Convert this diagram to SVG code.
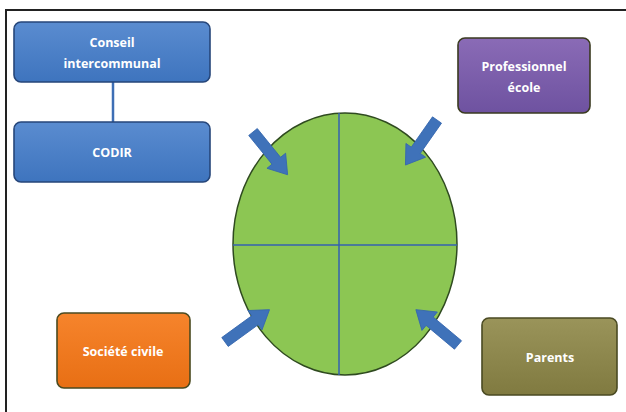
<svg xmlns="http://www.w3.org/2000/svg" xmlns:xlink="http://www.w3.org/1999/xlink" width="626" height="412" viewBox="0 0 626 412">
<style>
.lbl{font-family:"Open Sans","Liberation Sans",sans-serif;font-weight:bold;font-size:12.5px;fill:#ffffff;text-anchor:middle}
.box{stroke-width:1.6}
.arr{fill:#3F72B9;stroke:#3466AE;stroke-width:0.8}
</style>
<defs>
<linearGradient id="gBlue" x1="0" y1="0" x2="0" y2="1"><stop offset="0" stop-color="#5A8CD0"/><stop offset="1" stop-color="#3E74BE"/></linearGradient>
<linearGradient id="gPurple" x1="0" y1="0" x2="0" y2="1"><stop offset="0" stop-color="#8A6BB6"/><stop offset="1" stop-color="#6E52A0"/></linearGradient>
<linearGradient id="gOrange" x1="0" y1="0" x2="0" y2="1"><stop offset="0" stop-color="#F6842C"/><stop offset="1" stop-color="#E86F14"/></linearGradient>
<linearGradient id="gOlive" x1="0" y1="0" x2="0" y2="1"><stop offset="0" stop-color="#9A945A"/><stop offset="1" stop-color="#807A40"/></linearGradient>
<path id="arr" d="M0,-5.5 L37,-5.5 L37,-12 L55,0 L37,12 L37,5.5 L0,5.5Z"/>
</defs>
<rect width="626" height="412" fill="#ffffff"/>
<path d="M6,412 L6,10 L626,10" fill="none" stroke="#222222" stroke-width="2"/>

<g id="ellipse">
<ellipse cx="345" cy="244" rx="112" ry="131" fill="#8CC653" stroke="#2F4A20" stroke-width="1.5"/>
<line x1="339" y1="113" x2="339" y2="375" stroke="#3560B0" stroke-width="1.5"/>
<line x1="233" y1="245" x2="457" y2="245" stroke="#3560B0" stroke-width="1.5"/>
</g>

<g id="connectors">
<line x1="113" y1="82" x2="113" y2="122" stroke="#3E6FB5" stroke-width="2.5"/>
<use xlink:href="#arr" class="arr" transform="translate(253,132) rotate(51)"/>
<use xlink:href="#arr" class="arr" transform="translate(437,120) rotate(125)"/>
<use xlink:href="#arr" class="arr" transform="translate(225,342) rotate(-36)"/>
<use xlink:href="#arr" class="arr" transform="translate(458,345) rotate(220)"/>
</g>

<g id="conseil">
<rect class="box" x="14" y="22" width="196" height="60" rx="7" fill="url(#gBlue)" stroke="#26467A"/>
<text class="lbl" x="112" y="47">Conseil</text>
<text class="lbl" x="112" y="68">intercommunal</text>
</g>

<g id="codir">
<rect class="box" x="14" y="122" width="196" height="60" rx="7" fill="url(#gBlue)" stroke="#26467A"/>
<text class="lbl" x="112" y="157">CODIR</text>
</g>

<g id="professionnel">
<rect class="box" x="458" y="38" width="132" height="75" rx="7" fill="url(#gPurple)" stroke="#3A3A20"/>
<text class="lbl" x="524" y="71">Professionnel</text>
<text class="lbl" x="524" y="92">école</text>
</g>

<g id="societe">
<rect class="box" x="57" y="313" width="133" height="75" rx="7" fill="url(#gOrange)" stroke="#4A4A20"/>
<text class="lbl" x="123" y="356">Société civile</text>
</g>

<g id="parents">
<rect class="box" x="482" y="318" width="135" height="77" rx="7" fill="url(#gOlive)" stroke="#4A4A22"/>
<text class="lbl" x="550" y="362">Parents</text>
</g>
</svg>
